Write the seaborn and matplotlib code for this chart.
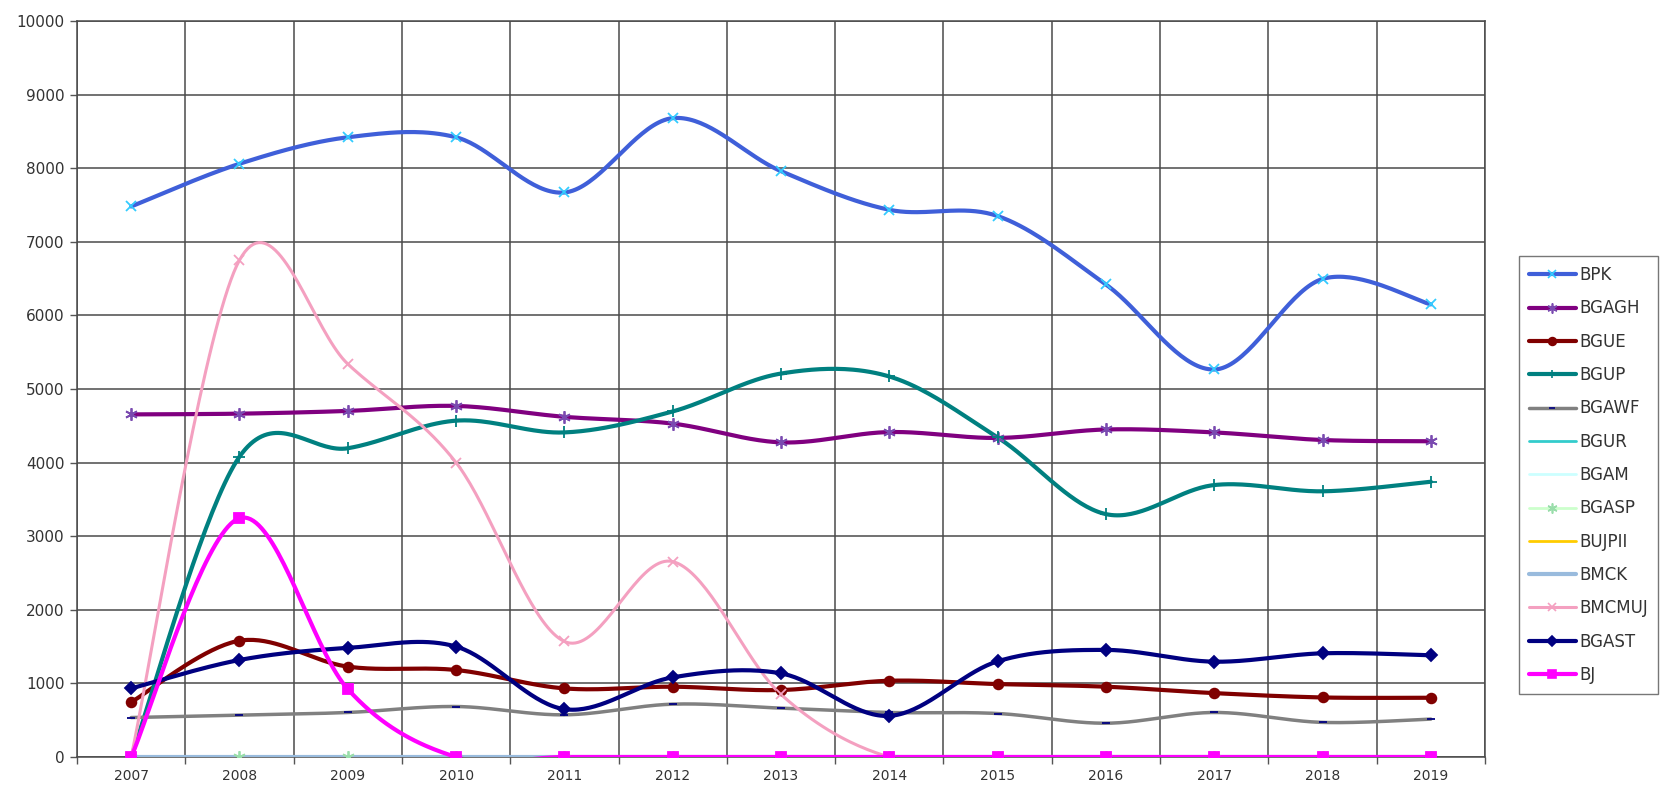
import numpy as np
import matplotlib
matplotlib.use("Agg")
import matplotlib.pyplot as plt
from matplotlib.lines import Line2D
import seaborn as sns

years = ["2007", "2008", "2009", "2010", "2011", "2012", "2013",
         "2014", "2015", "2016", "2017", "2018", "2019"]

BPK    = [7480, 8060, 8420, 8420, 7670, 8680, 7960, 7435, 7350, 6420, 5265, 6495, 6150]
BGAGH  = [4655, 4665, 4702, 4770, 4622, 4530, 4275, 4415, 4335, 4450, 4410, 4307, 4290]
BGUE   = [745, 1580, 1228, 1182, 932, 955, 910, 1036, 991, 955, 868, 809, 805]
BGUP   = [0, 4080, 4195, 4570, 4410, 4695, 5210, 5170, 4342, 3300, 3695, 3610, 3740]
BGAWF  = [536, 568, 605, 686, 573, 718, 664, 605, 591, 459, 605, 470, 515]
BGUR   = [0] * 13
BGAM   = [0] * 13
BGASP  = [0] * 13
BUJPII = [0] * 13
BMCK   = [0] * 13
BMCMUJ = [0, 6750, 5340, 4000, 1570, 2655, 850, 0, 0, 0, 0, 0, 0]
BGAST  = [932, 1318, 1482, 1500, 650, 1082, 1136, 559, 1300, 1455, 1295, 1409, 1382]
BJ     = [0, 3245, 923, 0, 0, 0, 0, 0, 0, 0, 0, 0, 0]

names = ["BPK", "BGAGH", "BGUE", "BGUP", "BGAWF", "BGUR", "BGAM", "BGASP",
         "BUJPII", "BMCK", "BMCMUJ", "BGAST", "BJ"]
values = [BPK, BGAGH, BGUE, BGUP, BGAWF, BGUR, BGAM, BGASP,
          BUJPII, BMCK, BMCMUJ, BGAST, BJ]

asterisk = (6, 2, 0)
# name: line color, line width, marker, marker face, marker edge, marker size
styles = {
    "BPK":    ("#3F5FD9", 3.0, "x", "#33CCFF", "#33CCFF", 7),
    "BGAGH":  ("#800080", 3.0, asterisk, "#7A4AB0", "#7A4AB0", 9),
    "BGUE":   ("#800000", 3.0, "o", "#800000", "#800000", 7),
    "BGUP":   ("#008080", 3.0, "+", "#008080", "#008080", 8),
    "BGAWF":  ("#808080", 2.5, "_", "#000080", "#000080", 6),
    "BGUR":   ("#33CCCC", 2.0, None, None, None, 0),
    "BGAM":   ("#CCFFFF", 2.0, None, None, None, 0),
    "BGASP":  ("#CCFFCC", 2.0, asterisk, "#99DDAA", "#99DDAA", 9),
    "BUJPII": ("#FFCC00", 2.0, None, None, None, 0),
    "BMCK":   ("#99BBDD", 3.0, None, None, None, 0),
    "BMCMUJ": ("#F4A0C0", 2.2, "x", "#F4A0C0", "#F4A0C0", 7),
    "BGAST":  ("#000080", 3.0, "D", "#000080", "#000080", 6),
    "BJ":     ("#FF00FF", 3.0, "s", "#FF00FF", "#FF00FF", 7),
}


def smooth(yv, n=40):
    x = np.arange(len(yv), dtype=float)
    y = np.asarray(yv, dtype=float)
    P = np.column_stack([x, y])
    out = []
    m = len(P)
    t = np.linspace(0, 1, n)[:, None]
    for i in range(m - 1):
        p0 = P[i - 1] if i > 0 else P[i]
        p1 = P[i]
        p2 = P[i + 1]
        p3 = P[i + 2] if i + 2 < m else P[i + 1]
        c1 = p1 + (p2 - p0) / 6.0
        c2 = p2 - (p3 - p1) / 6.0
        seg = ((1 - t) ** 3) * p1 + 3 * ((1 - t) ** 2) * t * c1 + 3 * (1 - t) * t ** 2 * c2 + t ** 3 * p2
        out.append(seg if i == 0 else seg[1:])
    arr = np.vstack(out)
    return arr[:, 0], arr[:, 1]


sns.set_style("white")
plt.rcParams["font.family"] = ["DejaVu Sans"]

fig = plt.figure(figsize=(16.61, 7.89), dpi=100)
ax = fig.add_axes([77 / 1661, 1 - 757 / 789, (1485 - 77) / 1661, (757 - 21) / 789])

handles = []
for nm, vals in zip(names, values):
    col, lw, mk, mfc, mec, ms = styles[nm]
    xs, ys = smooth(vals)
    sns.lineplot(x=xs, y=ys, ax=ax, color=col, lw=lw, sort=False,
                 estimator=None, legend=False, zorder=3)
    if mk is not None:
        ax.plot(np.arange(len(vals)), vals, ls="none", marker=mk, ms=ms,
                mfc=mfc, mec=mec, mew=1.3, zorder=4, clip_on=True)
    handles.append(Line2D([0], [0], color=col, lw=lw, marker=mk if mk else None,
                          ms=ms * 0.8, mfc=mfc, mec=mec, mew=1.2))

ax.set_xlim(-0.5, 12.5)
ax.set_ylim(0, 10000)
ax.set_xticks(range(len(years)))
ax.set_xticklabels(years)
ax.set_xticks(np.arange(-0.5, 13.0, 1.0), minor=True)
ax.set_yticks(np.arange(0, 10001, 1000))
ax.tick_params(axis="x", which="major", length=0, pad=9, labelsize=10, labelcolor="#333333")
ax.tick_params(axis="x", which="minor", length=5, width=1, direction="out", color="#555555", bottom=True)
ax.tick_params(axis="y", which="major", length=5, width=1, direction="out", color="#555555",
               pad=4, labelsize=11, labelcolor="#333333", left=True)
ax.grid(which="minor", axis="x", color="#4a4a4a", lw=1.1)
ax.grid(which="major", axis="y", color="#4a4a4a", lw=1.1)
ax.grid(which="major", axis="x", visible=False)
for s in ax.spines.values():
    s.set_color("#4a4a4a")
    s.set_linewidth(1.1)
ax.set_axisbelow(True)
ax.set_xlabel("")
ax.set_ylabel("")

leg = fig.legend(handles, names, loc="upper left",
                 bbox_to_anchor=(1519 / 1661, 1 - 256 / 789),
                 frameon=True, fancybox=False, fontsize=12,
                 handlelength=2.8, handletextpad=0.2, labelspacing=0.92,
                 borderpad=0.6, borderaxespad=0)
leg.get_frame().set_edgecolor("#555555")
leg.get_frame().set_linewidth(1.0)
for t in leg.get_texts():
    t.set_color("#333333")

fig.savefig("out.png", dpi=100, facecolor="white")
